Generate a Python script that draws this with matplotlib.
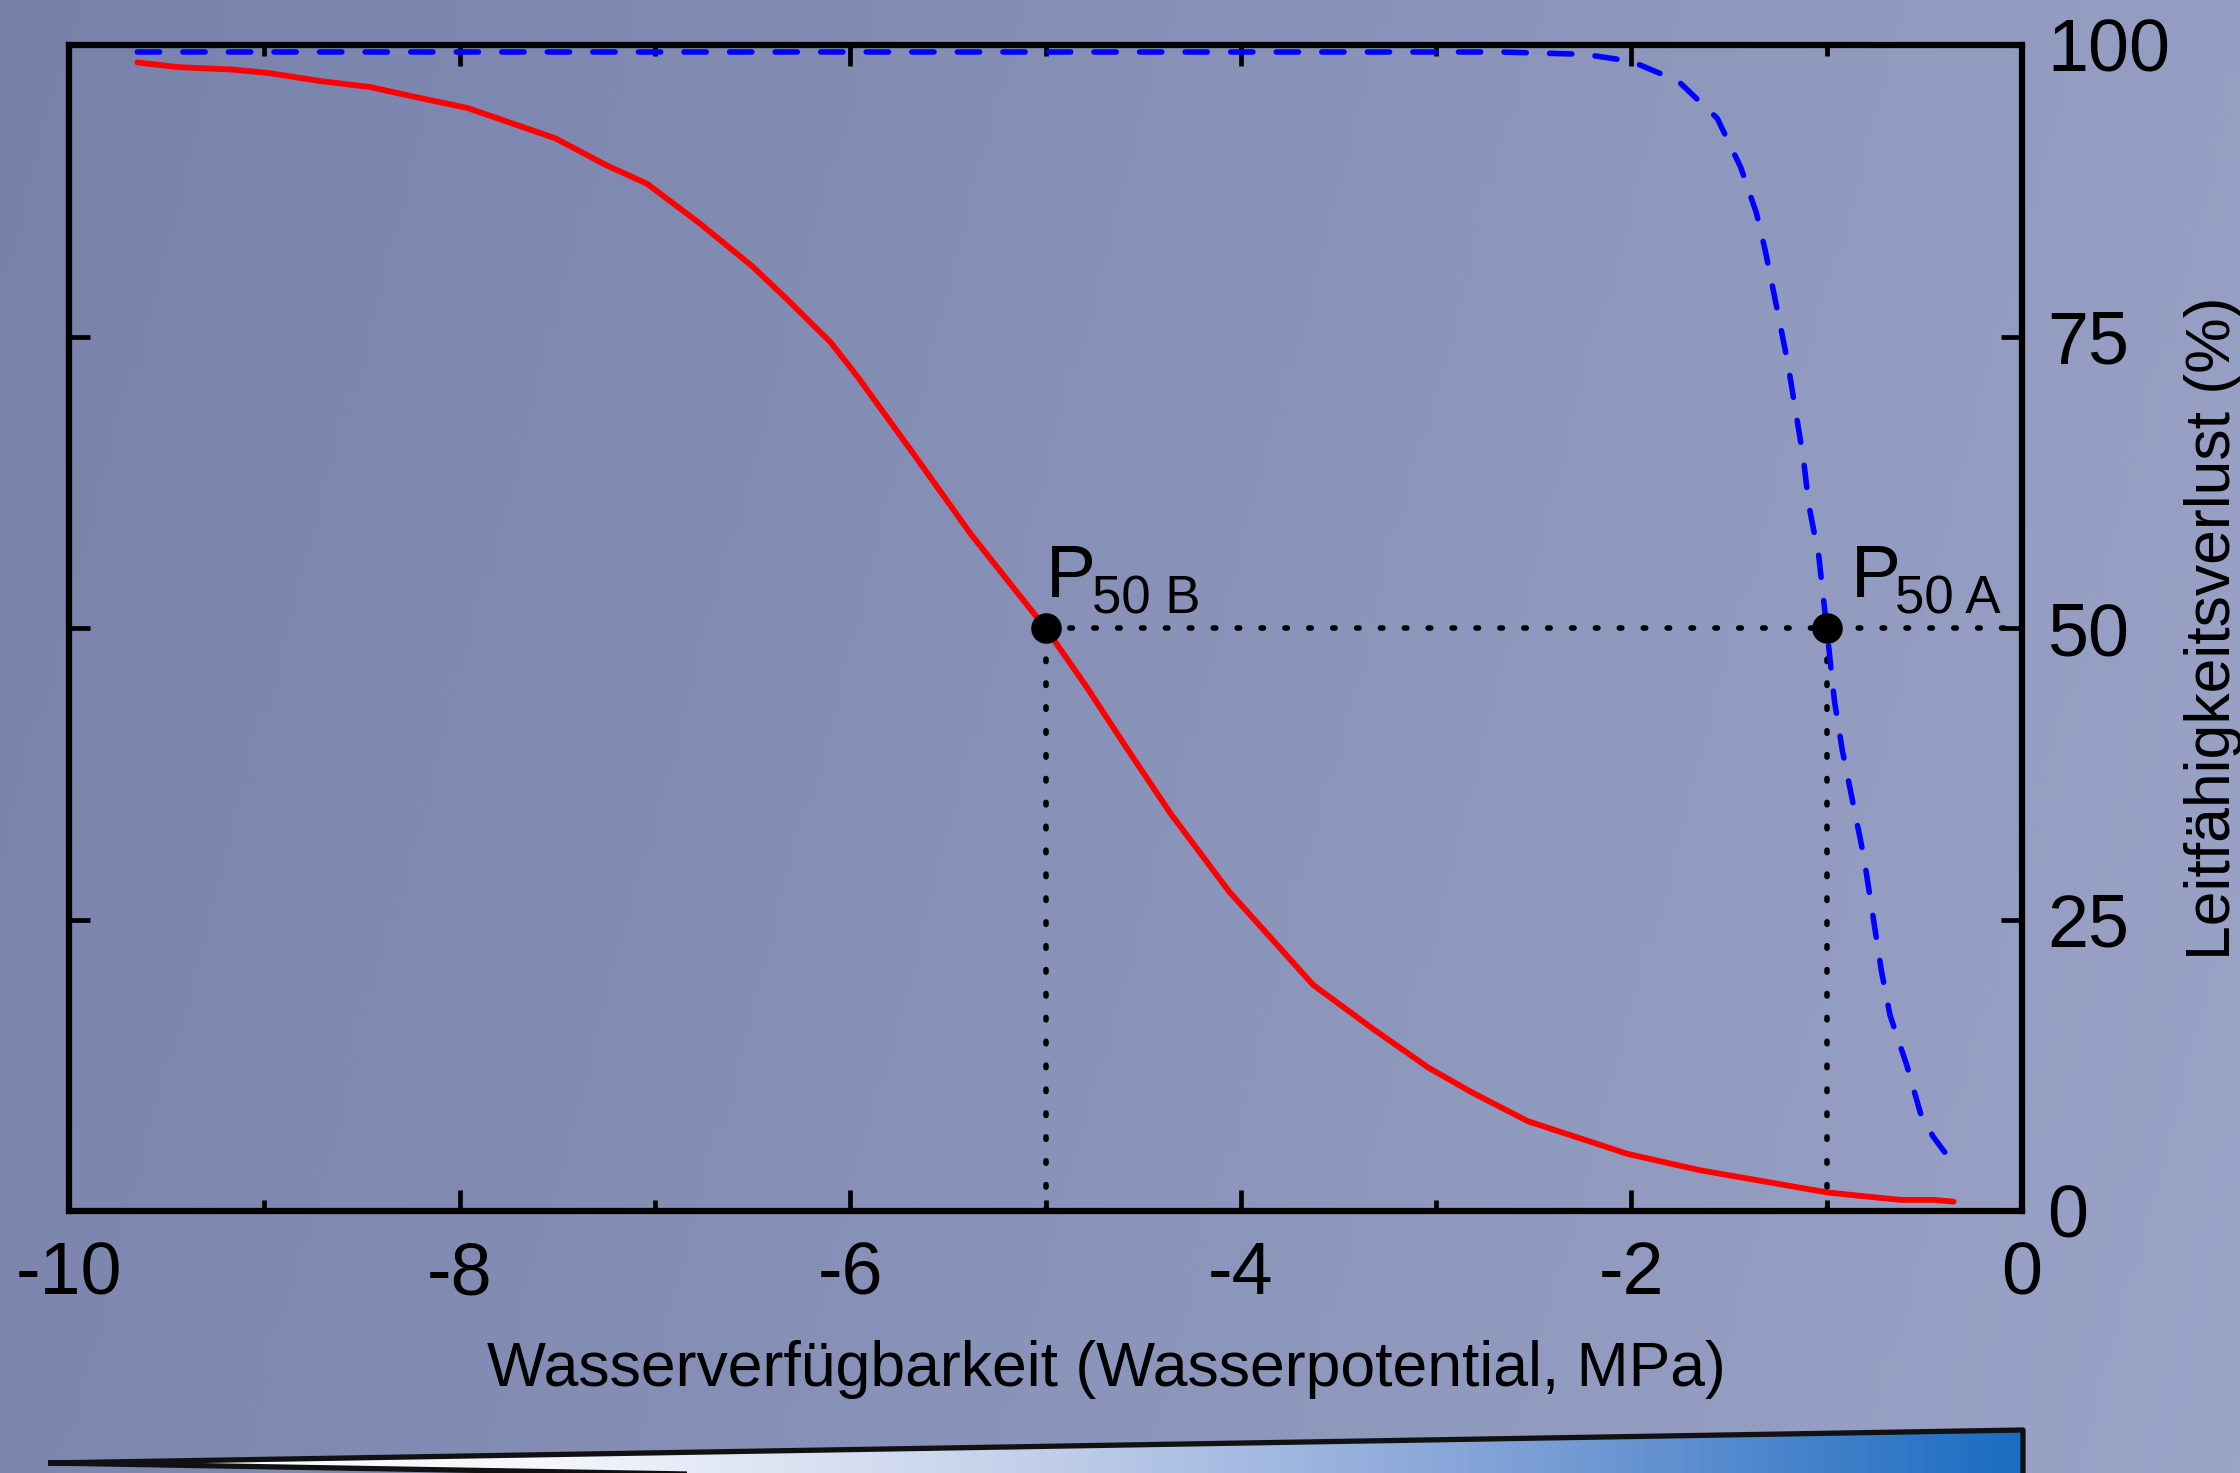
import numpy as np
import matplotlib.pyplot as plt
from matplotlib.patches import Polygon
from matplotlib.colors import LinearSegmentedColormap
from matplotlib import transforms

plt.rcParams["font.family"] = ["Liberation Sans", "DejaVu Sans"]

# Kurve B (rot, durchgezogen)
red_x = [-9.65, -9.44, -9.17, -8.98, -8.71, -8.46, -8.16, -7.96, -7.70, -7.51,
         -7.25, -7.04, -6.77, -6.50, -6.33, -6.10, -5.96, -5.67, -5.38, -5.00,
         -4.80, -4.58, -4.36, -4.06, -3.63, -3.33, -3.04, -2.82, -2.53, -2.02,
         -1.65, -1.00, -0.83, -0.62, -0.45, -0.35]
red_y = [98.5, 98.1, 97.9, 97.6, 96.9, 96.4, 95.3, 94.6, 93.1, 92.0,
         89.7, 88.1, 84.7, 81.0, 78.3, 74.5, 71.5, 64.8, 58.0, 50.0,
         45.2, 39.6, 34.1, 27.4, 19.4, 15.7, 12.3, 10.2, 7.7, 4.9,
         3.5, 1.6, 1.3, 0.95, 0.95, 0.8]

# Kurve A (blau, gestrichelt)
blue_x = [-9.65, -3.00, -2.67, -2.24, -2.00, -1.76, -1.56, -1.44, -1.36, -1.315,
          -1.25, -1.20, -1.16, -1.12, -1.09, -1.04, -1.00, -0.96, -0.92, -0.81,
          -0.72, -0.676, -0.59, -0.52, -0.456, -0.385, -0.35]
blue_y = [99.4, 99.4, 99.4, 99.2, 98.6, 96.9, 93.7, 89.5, 85.6, 82.4,
          77.0, 72.8, 68.7, 64.6, 60.4, 56.1, 50.0, 43.7, 39.5, 30.4,
          20.6, 16.8, 12.5, 8.4, 6.4, 4.8, 3.9]

p50_x = [-5.0, -1.0]
p50_y = [50, 50]
p50_sub = ["50 B", "50 A"]

xticks = [-10, -8, -6, -4, -2, 0]
yticks = [0, 25, 50, 75, 100]

W, H = 2240, 1473
fig = plt.figure(figsize=(W / 100, H / 100), dpi=100)

# Hintergrund mit Farbverlauf
bg = fig.add_axes([0, 0, 1, 1])
bg.set_xlim(0, W)
bg.set_ylim(H, 0)
bg.axis("off")
gx = np.linspace(0, 1, 256)
gy = np.linspace(0, 1, 64)
GX, GY = np.meshgrid(gx, gy)
c_left = np.array([119, 129, 170]) / 255
c_right = np.array([155, 164, 199]) / 255
t = np.clip(0.85 * GX + 0.15 * GY, 0, 1)[..., None]
bg.imshow(c_left + (c_right - c_left) * t, extent=[0, W, H, 0], aspect="auto", zorder=0)

# Keil unten
wedge = [(48, 1463), (2023, 1430), (2023, 1497)]
wcmap = LinearSegmentedColormap.from_list(
    "w", [(0, "#ffffff"), (0.25, "#f4f6fb"), (0.5, "#c3cfea"), (0.75, "#7d9fd6"), (1, "#1a6cc2")])
im = bg.imshow(np.linspace(0, 1, 256)[None, :], cmap=wcmap, extent=[48, 2023, 1510, 1420],
               aspect="auto", zorder=1)
poly = Polygon(wedge, closed=True, facecolor="none", edgecolor="#111111", lw=3.8,
               joinstyle="round", zorder=2)
bg.add_patch(poly)
im.set_clip_path(poly)

# Hauptdiagramm
ax = fig.add_axes([69 / W, 1 - 1211 / H, (2022 - 69) / W, (1211 - 45) / H])
ax.set_facecolor("none")

ax.plot(red_x, red_y, color="#ff0000", lw=4.2, solid_capstyle="round",
        solid_joinstyle="round", zorder=3)
ax.plot(blue_x, blue_y, color="#0000ff", lw=4.0, dashes=(4.0, 4.2),
        dash_capstyle="round", zorder=3)

for px in p50_x:
    ax.plot([px, px], [0, 50], color="black", lw=4.0, dashes=(0.45, 3.85),
            dash_capstyle="round", zorder=2)
ax.plot([p50_x[0], 0], [50, 50], color="black", lw=4.0, dashes=(0.45, 3.85),
        dash_capstyle="round", zorder=2)
ax.plot(p50_x, p50_y, "o", color="black", ms=21, zorder=4)

offs = [(0, 31, 46, 15), (24, 31, 68, 15)]
for (px, py), sub, (dx, dy, sx, sy) in zip(zip(p50_x, p50_y), p50_sub, offs):
    tr = transforms.offset_copy(ax.transData, fig=fig, x=dx * 0.72, y=dy * 0.72, units="points")
    ax.text(px, py, "P", transform=tr, fontsize=54, va="baseline", ha="left")
    tr2 = transforms.offset_copy(ax.transData, fig=fig, x=sx * 0.72, y=sy * 0.72, units="points")
    ax.text(px, py, sub, transform=tr2, fontsize=38, va="baseline", ha="left")

ax.set_xlim(-10, 0)
ax.set_ylim(0, 100)
ax.set_xticks(xticks)
ax.set_xticks(np.arange(-9, 0, 2), minor=True)
ax.set_yticks(yticks)
ax.set_xticklabels([str(v) for v in xticks])
ax.set_yticklabels([str(v) for v in yticks])

for s in ax.spines.values():
    s.set_linewidth(4.5)
ax.tick_params(which="both", direction="in", top=True, right=True, width=3.4,
               labelleft=False, labelright=True, labelsize=53)
ax.tick_params(which="major", length=15)
ax.tick_params(which="minor", length=8)
ax.tick_params(axis="x", pad=21)
ax.tick_params(axis="y", pad=18)

ax.set_xlabel("Wasserverfügbarkeit (Wasserpotential, MPa)", fontsize=45, labelpad=22)
ax.xaxis.label.set_x(0.531)
ax.yaxis.set_label_position("right")
ax.set_ylabel("Leitfähigkeitsverlust (%)", fontsize=45, labelpad=10)

fig.savefig("out.png", dpi=100)
